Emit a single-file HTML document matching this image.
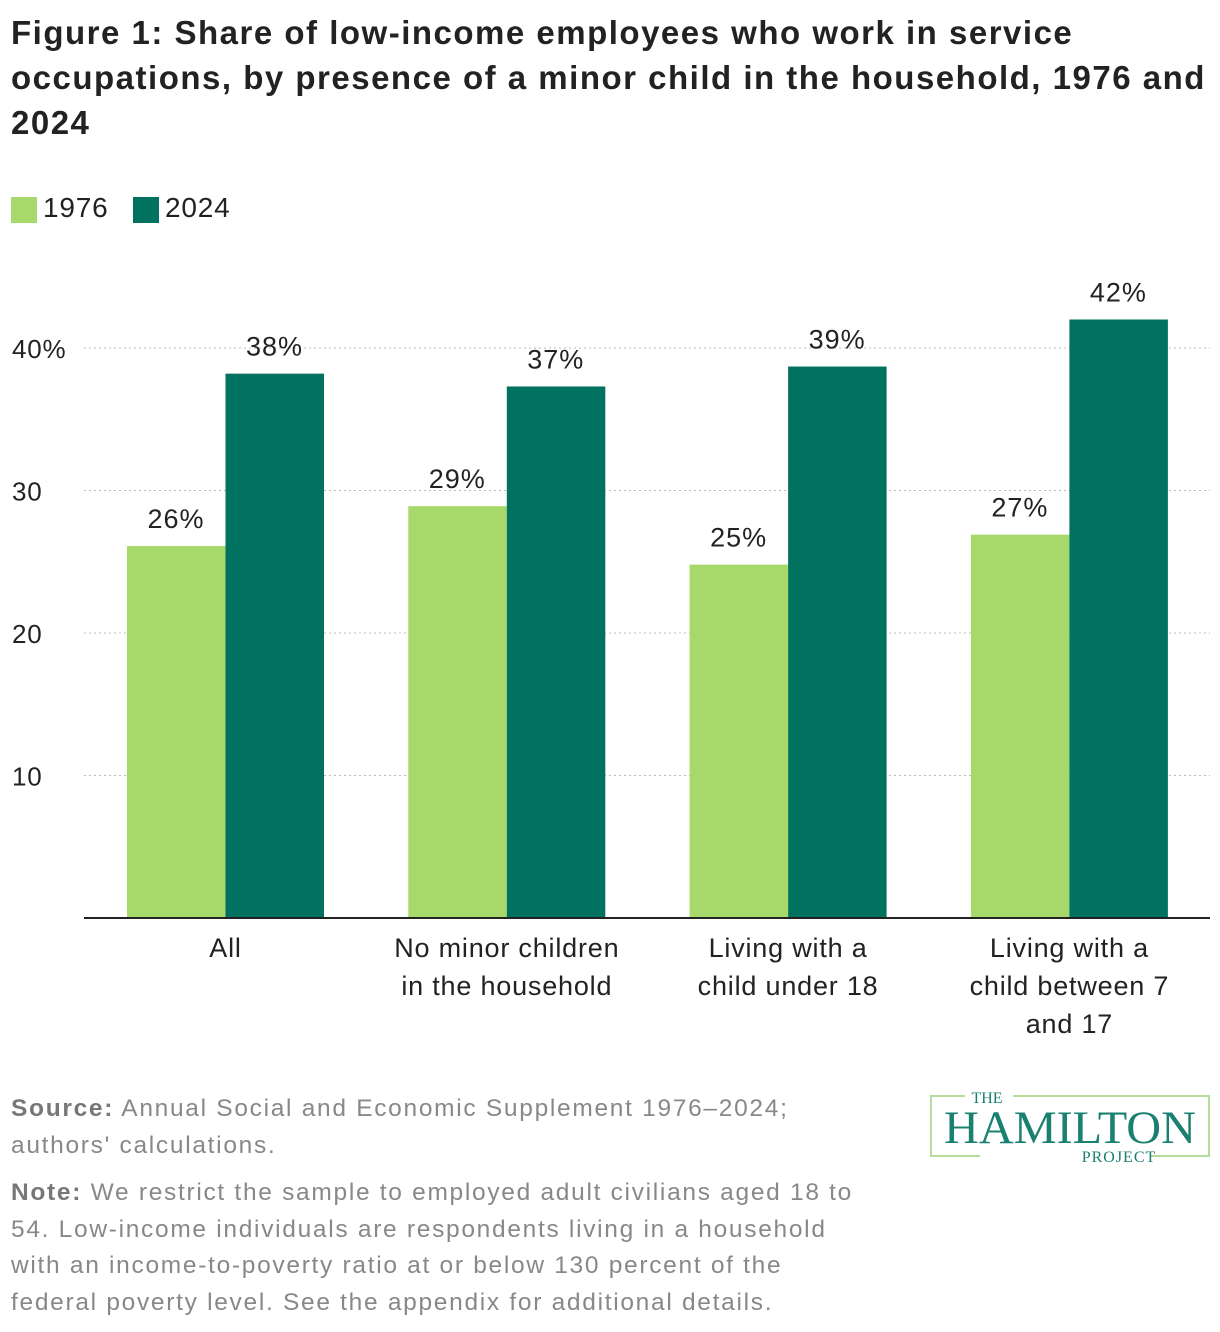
<!DOCTYPE html>
<html><head><meta charset="utf-8"><style>
body{margin:0;width:1220px;height:1332px;background:#fff;font-family:"Liberation Sans",sans-serif;position:relative;overflow:hidden}
.t{position:absolute;left:11px;top:10px;font-size:33px;font-weight:bold;line-height:45px;color:#222;width:1215px;white-space:nowrap;letter-spacing:1.5px}
.lg{position:absolute;top:192px;font-size:28px;color:#222;letter-spacing:0.8px}
.sw{position:absolute;top:197px;width:26px;height:26px}
.ft{position:absolute;left:11px;font-size:24.5px;color:#888;line-height:37px;white-space:nowrap;letter-spacing:1.7px}
.ft b{color:#777}
</style></head><body>
<div class="t">Figure 1: Share of low-income employees who work in service<br>occupations, by presence of a minor child in the household, 1976 and<br>2024</div>
<div class="sw" style="left:11px;background:#a6d96a"></div>
<div class="lg" style="left:43px">1976</div>
<div class="sw" style="left:133px;background:#00725f"></div>
<div class="lg" style="left:165px">2024</div>
<svg id="c" width="1220" height="1060" style="position:absolute;left:0;top:0"></svg>
<div class="ft" style="top:1090px"><b>Source:</b> Annual Social and Economic Supplement 1976–2024;<br>authors' calculations.</div>
<div class="ft" style="top:1175px;line-height:36.5px"><b>Note:</b> We restrict the sample to employed adult civilians aged 18 to<br>54. Low-income individuals are respondents living in a household<br>with an income-to-poverty ratio at or below 130 percent of the<br>federal poverty level. See the appendix for additional details.</div>
<svg width="290" height="80" style="position:absolute;left:925px;top:1086px">
<path d="M40 10H6V70H55M226 70H284V10H88" fill="none" stroke="#b5dc9a" stroke-width="2"/>
<text x="62" y="17" font-family="Liberation Serif,serif" font-size="16" fill="#1a8070" text-anchor="middle">THE</text>
<text x="145" y="57" font-family="Liberation Serif,serif" font-size="47" fill="#1a8070" text-anchor="middle" textLength="252" lengthAdjust="spacingAndGlyphs">HAMILTON</text>
<text x="194" y="76" font-family="Liberation Serif,serif" font-size="16" fill="#1a8070" text-anchor="middle" letter-spacing="1">PROJECT</text>
</svg>
<script>
const categories=[["All"],["No minor children","in the household"],["Living with a","child under 18"],["Living with a","child between 7","and 17"]];
const values1976=[26.1,28.9,24.8,26.9];
const values2024=[38.2,37.3,38.7,42.0];
const labels1976=["26%","29%","25%","27%"];
const labels2024=["38%","37%","39%","42%"];
const ticks=[10,20,30,40];
const tickLabels=["10","20","30","40%"];
const svg=document.getElementById('c'),NS="http://www.w3.org/2000/svg";
const y=v=>918-v*14.25;
const gx=i=>225.5+i*281.3;
function mk(t,a,txt){const e=document.createElementNS(NS,t);for(const k in a)e.setAttribute(k,a[k]);if(txt!=null)e.textContent=txt;svg.appendChild(e);return e;}
ticks.forEach((t,i)=>{
 const l=mk('line',{x1:84,x2:1210,y1:y(t),y2:y(t),stroke:'#bbb','stroke-dasharray':'2,3'});
 
 
 const tx=mk('text',{x:12,y:y(t)+10,'font-size':26,fill:'#222','letter-spacing':0.8},tickLabels[i]);
 
 
});
categories.forEach((c,i)=>{
 const cx=gx(i);
 [[values1976,labels1976,'#a6d96a',-98.5,'1976'],[values2024,labels2024,'#00725f',0,'2024']].forEach(s=>{
  const v=s[0][i];
  const r=mk('rect',{x:cx+s[3],y:y(v),width:98.5,height:918-y(v),fill:s[2]});
  
  
  const t=mk('text',{x:cx+s[3]+49,y:y(v)-18,'font-size':27,fill:'#222','text-anchor':'middle','letter-spacing':1},s[1][i]);
  
  
 });
 c.forEach((ln,j)=>{
  const t=mk('text',{x:cx,y:957+j*38,'font-size':27,fill:'#222','text-anchor':'middle','letter-spacing':0.8},ln);
  
  
 });
});
const ax=mk('line',{x1:84,x2:1210,y1:918,y2:918,stroke:'#222','stroke-width':2});


</script>
</body></html>
